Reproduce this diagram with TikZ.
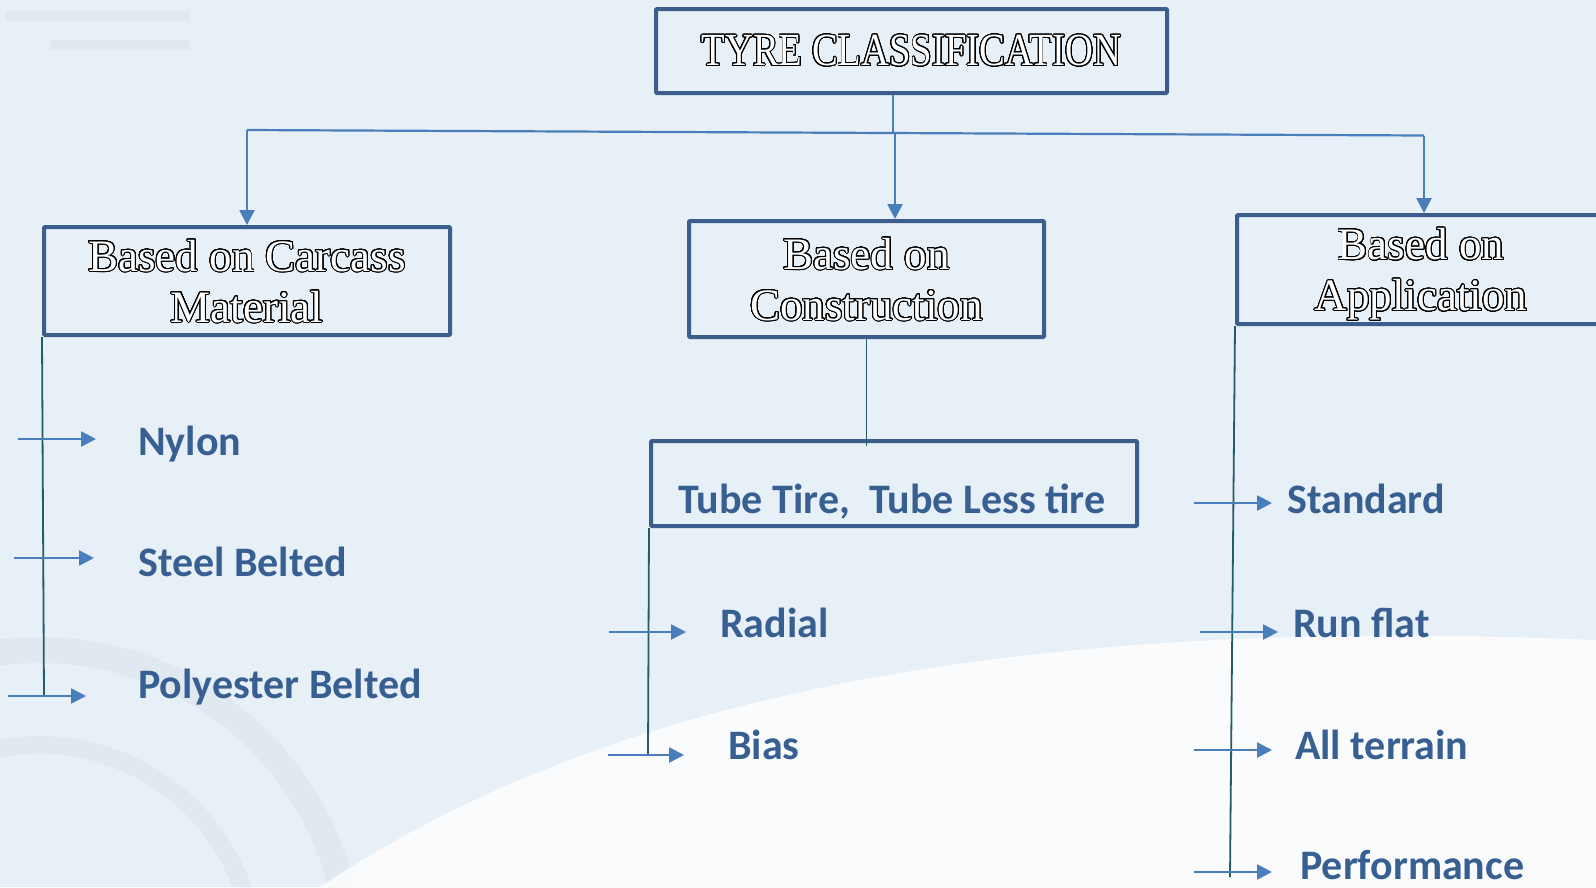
\documentclass[tikz,border=0pt]{standalone}
\usepackage{fontspec}
\setmainfont{Carlito}
\newfontfamily\headfont[FakeStretch=0.84]{Liberation Serif}
\newfontfamily\boxfont{Liberation Serif}
\usepackage[copies]{contour}
\contourlength{0.9pt}
\contournumber{32}
\usetikzlibrary{calc, arrows.meta}
\definecolor{bgc}{HTML}{E7EFF7}
\definecolor{boxline}{HTML}{3B5E8C}
\definecolor{arrc}{HTML}{4A7EBB}
\definecolor{stemc}{HTML}{245D66}
\definecolor{itemc}{HTML}{385F91}
% hollow (outlined) lettering
\newcommand{\hollow}[1]{{\color{white}\contour{black}{#1}}}
\tikzset{
  % Title box
  tbox/.style={draw=boxline, line width=4pt, rounded corners=1pt,
    minimum width=511pt, minimum height=84pt, inner sep=0pt,
    font=\headfont\fontsize{46}{52}\selectfont},
  % Category box
  cbox/.style={draw=boxline, line width=4pt, rounded corners=1pt,
    inner sep=0pt, align=center, text depth=0pt,
    font=\boxfont\fontsize{45}{51}\selectfont},
  % Listed item
  item/.style={anchor=base west, inner sep=0pt, text=itemc,
    font=\bfseries\fontsize{42}{50}\selectfont},
  % Arrows and lines
  arr/.style={draw=arrc, line width=2.6pt, -{Triangle[length=15pt, width=15pt]}},
  link/.style={draw=arrc, line width=2.2pt},
  vline/.style={draw=stemc, line width=1.8pt},
  % faint backdrop
  ghost/.style={draw=gray, opacity=.06},
}
\begin{document}
\begin{tikzpicture}[x=1pt, y=-1pt]
  \useasboundingbox (0,0) rectangle (1596,887);
  \fill[bgc] (0,0) rectangle (1596,887);
  % gear and bars in the backdrop
  \draw[ghost, line width=26pt] (40,960) circle [radius=310];
  \draw[ghost, line width=18pt] (40,960) circle [radius=215];
  \draw[ghost, line width=10pt] (5,16) -- (190,16);
  \draw[ghost, line width=10pt] (50,45) -- (190,45);
  \fill[white, opacity=.8] (320,887) .. controls (600,700) and (1000,615)
    .. (1596,640) -- (1596,887) -- cycle;

  \node[tbox] (tc) at (911.5,51) {\hollow{TYRE CLASSIFICATION}};
  \node[cbox, minimum width=406pt, minimum height=108pt] (carcass) at (247,281)
    {\hollow{Based on Carcass}\\\hollow{Material}};
  \node[cbox, minimum width=355pt, minimum height=116pt] (constr) at (866.5,279)
    {\hollow{Based on}\\\hollow{Construction}};
  \node[cbox, minimum width=368pt, minimum height=109pt] (appl) at (1421,269.5)
    {\hollow{Based on}\\\hollow{Application}};
  \node[cbox, minimum width=486pt, minimum height=85pt] (tube) at (894,483.5) {};
  \node[item] (tubetxt) at (678,513) {Tube Tire,\ \ Tube Less tire};

  % top level
  \coordinate (bus-l) at (247,130);
  \coordinate (bus-r) at (1424,135.5);
  \coordinate (hub) at (893,133);
  \coordinate (drop) at (895,133);
  \draw[link] (tc.south -| hub) -- (hub);
  \draw[link] (bus-l) -- (bus-r);
  \draw[arr] (bus-l) -- (bus-l |- carcass.north);
  \draw[arr] (drop) -- (drop |- constr.north);
  \draw[arr] (bus-r) -- (bus-r |- appl.north);
  \draw[vline] (constr.south) -- ($(tube.north -| constr.south)+(0,7)$);

  % branch lines
  \draw[vline] (carcass.south west) -- ++(2,359);
  \draw[vline] (tube.south west) -- ++(-1,227);
  \draw[vline] (appl.south west) -- ++(-5,551);

  \foreach \nm/\txt/\xa/\xb/\ya/\xt/\yt in {
      nylon/Nylon/18/96/439/138/455,
      steel/Steel Belted/14/94/558/138/576,
      poly/Polyester Belted/8/86/696/138/698,
      radial/Radial/609/686/632/720/637,
      bias/Bias/608/684/755/728/759,
      std/Standard/1194/1272/503/1287/513,
      run/Run flat/1200/1278/632/1293/637,
      allt/All terrain/1194/1272/750/1295/759,
      perf/Performance/1194/1272/872/1300/879}{
    \node[item] (\nm) at (\xt,\yt) {\txt};
    \coordinate (\nm-tail) at (\xa,\ya);
    \coordinate (\nm-tip) at (\xb,\ya);
    \draw[arr] (\nm-tail) -- (\nm-tip);
  }
\end{tikzpicture}
\end{document}
